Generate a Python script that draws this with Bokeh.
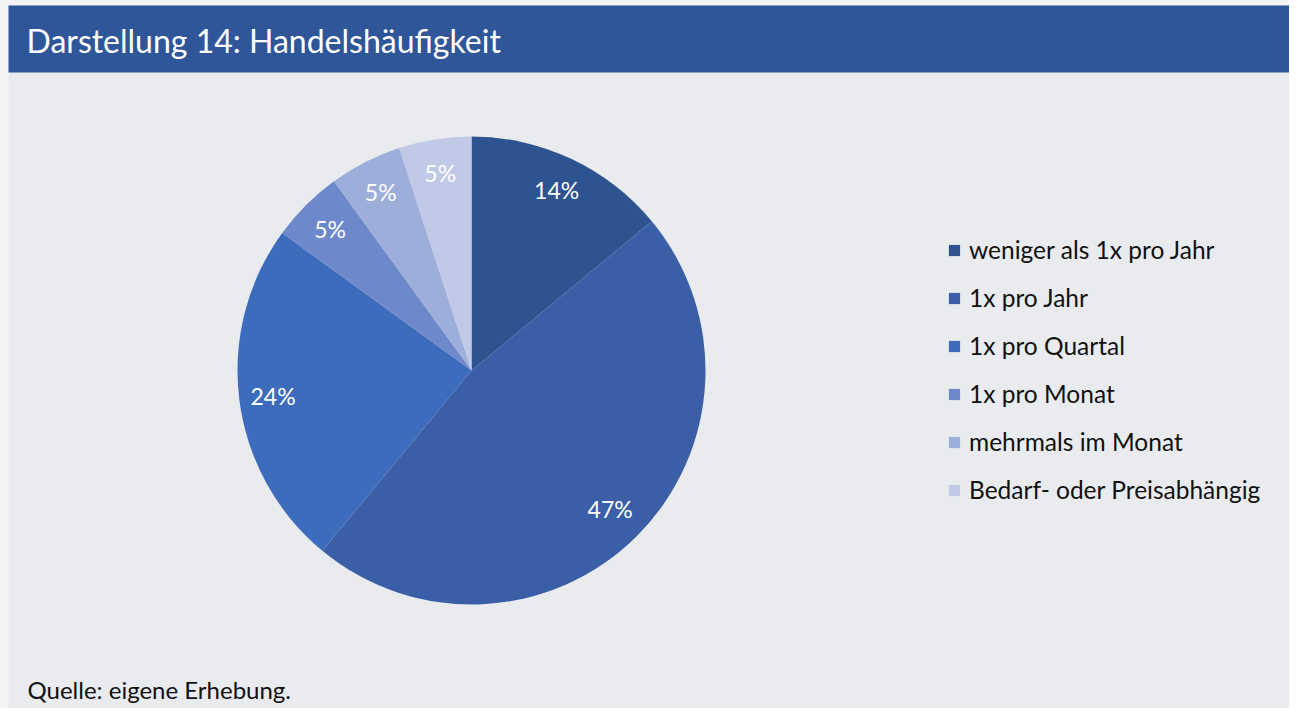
import math
from bokeh.plotting import figure
from bokeh.models import Range1d, ColumnDataSource, Legend, LegendItem
from bokeh.core.properties import value
from bokeh.embed import file_html
from bokeh.resources import INLINE

title = "Darstellung 14: Handelshäufigkeit"
source_note = "Quelle: eigene Erhebung."
categories = ["weniger als 1x pro Jahr", "1x pro Jahr", "1x pro Quartal",
              "1x pro Monat", "mehrmals im Monat", "Bedarf- oder Preisabhängig"]
shares = [14, 47, 24, 5, 5, 5]
colors = ["#2e5391", "#3a5fa7", "#3e6cbd", "#6d89cb", "#9caed9", "#c0c9e5"]

W, H = 1289, 708
FONT = "Lato"

p = figure(width=W, height=H, x_range=Range1d(0, W), y_range=Range1d(0, H),
           output_backend="svg", toolbar_location=None, min_border=0,
           background_fill_color="#e9ebee", border_fill_color="#e9ebee")
p.axis.visible = False
p.grid.visible = False
p.outline_line_color = None

# white page strips (top and left)
p.quad(left=[0], right=[W], bottom=[H - 5], top=[H], fill_color="#f3f3f3", line_color=None)
p.quad(left=[0], right=[8], bottom=[0], top=[H], fill_color="#f3f3f3", line_color=None)

# header band
p.quad(left=[8], right=[W], bottom=[H - 72], top=[H - 5], fill_color="#30569a", line_color=None)
p.text(x=[26], y=[H - 40], text=[title], text_color="white", text_font=value(FONT),
       text_font_size="32px", text_baseline="middle", text_align="left")

# pie
cx, cy, R = 471, H - 370, 234
total = sum(shares)
starts, ends, lx, ly, labels = [], [], [], [], []
acc = 0.0
for s in shares:
    a0 = acc / total
    a1 = (acc + s) / total
    starts.append(math.pi / 2 - 2 * math.pi * a1)
    ends.append(math.pi / 2 - 2 * math.pi * a0)
    mid = math.pi / 2 - 2 * math.pi * (a0 + a1) / 2
    rl = 196 if s > 30 else 200
    lx.append(cx + rl * math.cos(mid))
    ly.append(cy + rl * math.sin(mid))
    labels.append(f"{s}%")
    acc += s

src = ColumnDataSource(dict(start=starts, end=ends, color=colors, cat=categories,
                            lx=lx, ly=ly, lab=labels))
r = p.wedge(x=cx, y=cy, radius=R, start_angle="start", end_angle="end",
            fill_color="color", line_color=None, source=src)
p.text(x="lx", y="ly", text="lab", source=src, text_color="white", text_font=value(FONT),
       text_font_size="23px", text_align="center", text_baseline="middle")

legend = Legend(items=[LegendItem(label=c, renderers=[r], index=i) for i, c in enumerate(categories)],
                location=(947, H - 504), orientation="vertical",
                background_fill_alpha=0, border_line_color=None,
                label_text_font=FONT, label_text_font_size="24.5px", label_text_color="#111111",
                glyph_width=14, glyph_height=14, label_standoff=8, spacing=19,
                padding=0, margin=0)
p.add_layout(legend, "center")

p.text(x=[27], y=[H - 689], text=[source_note], text_color="#111111", text_font=value(FONT),
       text_font_size="24px", text_baseline="middle", text_align="left")

open("out.html", "w").write(file_html(p, INLINE))
